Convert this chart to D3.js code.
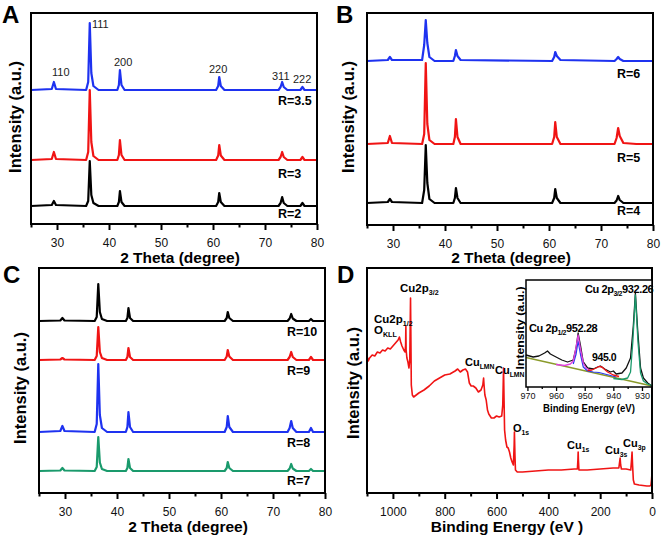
<!DOCTYPE html>
<html><head><meta charset="utf-8">
<script src="https://cdn.jsdelivr.net/npm/d3@7"></script>
<style>body{margin:0;background:#fff} svg{display:block} text{font-family:Arial,"Liberation Sans",sans-serif}</style>
</head><body><svg id="c" width="661" height="538"></svg>
<script>
// ---------------- DATA ----------------
const xrdTicks = [25,30,35,40,45,50,55,60,65,70,75,80];
const surveyTicks = [0,100,200,300,400,500,600,700,800,900,1000,1100];
const insetTicks = [970,965,960,955,950,945,940,935,930];

// 2-theta sampling (degrees) for panels A and B, and C
const twoTheta  = [25,29.0,29.4,29.8,35.6,36.0,36.3,36.6,37.0,38.0,41.6,41.9,42.1,42.4,43.0,60.6,61.0,61.2,61.5,62.2,72.6,73.0,73.3,73.6,74.3,76.8,77.2,77.6,80];
const twoThetaC = [25,29.1,29.5,29.9,35.7,36.1,36.4,36.7,37.1,38.1,41.7,42.0,42.2,42.5,43.1,60.7,61.1,61.3,61.6,62.3,72.8,73.2,73.5,73.8,74.5,76.9,77.3,77.7,80];

// Panel A intensities (a.u., offset)
const A_R35 = [134,135,142,135,134,142,201,151,138,134,134,139,154,139,134,134,138,147,138,134,134,137,142,137,134,134,137,134,134];
const A_R3  = [64,65,72,65,64,72,134,82,68,64,64,69,84,69,64,64,68.5,79,68.5,64,64,67,72,67,64,64,67,64,64];
const A_R2  = [18,19,23,19,18,23,63,29,21,18,18,22,33,22,18,18,22,31,22,18,18,21,27,21,18,18,21,18,18];
// Panel B
const B_R6 = [164,165,168,165,165,180,205,182,168,164,164,169,175,169,165,164,168,173,169,165,164,166,168,166,164,164,164,164,164];
const B_R5 = [81,82,89,82,81,91,162,101,85,81,81,88,106,88,81,81,88,103,88,81,81,87,97,89,82,81,81,81,81];
const B_R4 = [22,23,26,23,22,35,80,42,26,22,22,27,37,27,22,22,27,36,27,22,22,24.5,29,25,22,22,22,22,22];
// Panel C
const C_R10 = [172,172.5,175,172.5,172,176,209,181,174,172,172,175,185,175,172,172,175,181,175,172,172,174.5,179,174.5,172,172,174,172,172];
const C_R9  = [133,133.5,135,133.5,133,137,166,141,135,133,133,136,145,136,133,133,136.5,143,136.5,133,133,136,141,136,133,133,136,133,133];
const C_R8  = [61,62,67,62,61,69,129,78,65,61,61,66,81,66,61,61,66,77,66,61,61,65,72,65,61,61,65,61,61];
const C_R7  = [22,22.5,25,22.5,22,26,56,30.5,24,22,22,25,34,25,22,22,25,31,25,22,22,24.5,29,24.5,22,22,24,22,22];

const labelsA = ["R=3.5","R=3","R=2"];
const labelsB = ["R=6","R=5","R=4"];
const labelsC = ["R=10","R=9","R=8","R=7"];
const millerA = ["110","111","200","220","311","222"];

// Panel D: XPS survey (binding energy eV, intensity a.u.)
const surveyE = [1100,1095,1090,1080,1070,1060,1050,1040,1030,1020,1010,1000,990,980,975,970,965,958,953,951,950,949,946,942,938,935,933,932,930.5,929,925,920,900,880,860,840,820,800,780,760,750,740,730,720,712,705,698,690,680,670,660,653,650,648,645,640,635,630,620,610,600,590,580,576,573,571,569,565,560,555,550,545,540,535,532,531,529,527,520,500,450,400,350,300,288,286,285,284,282,250,200,150,128,125,123,121,118,100,82,79,77,75,72,68,50,20,8,4,2,0];
const surveyI = [137,132,135,138,137,141,140,143,142,145,144,147,150,153,156,151,147,143,141,148,167,143,135,131,125,133,173,195,153,108,98,96,100,103,107,112,115,118,119,122,124,121,123,124,121,110,107,107,105,101,103,108,115,107,98,93,83,79,75,75,77,76,77,88,125,93,63,53,46,45,41,35,31,28,48,61,38,23,21,21,22,23,23,24,24,33,41,33,23,23,24,25,25,31,35,28,24,24,23,33,41,28,13,9,8,7,7,8,13,20];

// Inset: Cu 2p high resolution
const rawE = [970.5,968,966,964,963,962,960,958,956,954,953,952.3,951.5,950.5,949,947,945.5,944.5,943,941,940,939,937,935.5,934,933,932.3,931.5,930.5,929.5,928,926.5];
const rawI = [32,30,31,34,36,33,30,27,25,27,39,54,42,25,19,18,20,21,18,15,16,13,14,19,29,62,94,57,19,9,4,1];
const bgE = [970.5,926.5];
const bgI = [29.5,1];
const fit12E = [960,957,955,954,953.2,952.3,951.4,950.5,949.5,948];
const fit12I = [22.5,21.5,23,26,37,52,37,24,19,16.5];
const fitBlueE = [954,953,952.3,951.5,950.5,949,947,945,943,941,939];
const fitBlueI = [23,33,46,33,20,16,15,14.5,13,11.5,10];
const fitSatE = [949,947.5,946,945,944,943,942,940,938];
const fitSatI = [16.5,17,19,20.5,20,17.5,15,12,10.5];
const fit32E = [940,937,935,934,933.2,932.3,931.4,930.5,929.5,928,926.5];
const fit32I = [8.5,7.5,9,15,45,92,45,14,6,3,1.5];

// ---------------- DRAW ----------------
const svg = d3.select("#c");
const BLUE="#1e32f0", RED="#f01414", GREEN="#1a9a6c", BLACK="#000";

function bottomAxis(g, x, yPos, ticks, majorTest, opts) {
  const ax = g.append("g").attr("transform", `translate(0,${yPos})`)
    .call(d3.axisBottom(x).tickValues(ticks).tickSize(opts.major).tickPadding(opts.pad)
      .tickFormat(d => majorTest(d) ? d : ""));
  ax.select(".domain").remove();
  ax.selectAll(".tick line").attr("stroke", "#000").attr("stroke-width", opts.sw)
    .attr("y2", d => majorTest(d) ? opts.major : opts.minor);
  ax.selectAll(".tick text").attr("font-size", opts.fs).attr("fill", "#111")
    .attr("font-family", "Arial, 'Liberation Sans', sans-serif");
  ax.selectAll(".tick").filter(d => !majorTest(d)).select("text").remove();
  return ax;
}

function yTitle(x, y, size, len) {
  const t = svg.append("text").attr("transform", `translate(${x},${y}) rotate(-90)`)
    .attr("text-anchor", "middle").attr("font-weight", "bold").attr("font-size", size)
    .text("Intensity (a.u.)");
  if (len) t.attr("textLength", len).attr("lengthAdjust", "spacingAndGlyphs");
}
function xTitle(str, x, y, size, len) {
  const t = svg.append("text").attr("x", x).attr("y", y).attr("text-anchor", "middle")
    .attr("font-weight", "bold").attr("font-size", size).text(str);
  if (len) t.attr("textLength", len).attr("lengthAdjust", "spacingAndGlyphs");
}
function letter(s, x, y) {
  svg.append("text").attr("x", x).attr("y", y).attr("font-weight", "bold")
    .attr("font-size", 24).text(s);
}

function xrdPanel(p) {
  const x = d3.scaleLinear().domain([25, 80]).range([p.l, p.r]);
  const y = d3.scaleLinear().domain([0, p.b - p.t]).range([p.b, p.t]);
  const g = svg.append("g");
  p.series.forEach(s => {
    const line = d3.line().x((d, i) => x(p.grid[i])).y(d => y(d));
    g.append("path").attr("d", line(s.v)).attr("fill", "none").attr("stroke", s.c)
      .attr("stroke-width", 2.2).attr("stroke-linejoin", "round");
  });
  g.append("rect").attr("x", p.l).attr("y", p.t).attr("width", p.r - p.l).attr("height", p.b - p.t)
    .attr("fill", "none").attr("stroke", "#000").attr("stroke-width", 2);
  bottomAxis(g, x, p.b, xrdTicks, d => d % 10 === 0, {major: 6, minor: 3.5, pad: 8, sw: 2, fs: 12});
  p.rl.forEach((r, i) => {
    g.append("text").attr("x", p.rx).attr("y", p.ry[i]).attr("font-weight", "bold")
      .attr("font-size", 12.5).text(r);
  });
  return {x, y, g};
}

// Panel A
const pa = xrdPanel({l:31, r:317, t:13, b:224, grid:twoTheta,
  series:[{v:A_R2,c:BLACK},{v:A_R3,c:RED},{v:A_R35,c:BLUE}],
  rl:labelsA, rx:278, ry:[104.5,177.5,217.5]});
const mPos = [[52,76],[92,28],[114,66],[209,73],[272,80],[293,83]];
millerA.forEach((m, i) => pa.g.append("text").attr("x", mPos[i][0]).attr("y", mPos[i][1])
  .attr("font-size", 11).attr("fill", "#222").text(m));
letter("A", 2, 23); yTitle(21, 117, 16.5); xTitle("2 Theta (degree)", 180, 263, 15.5);

// Panel B
xrdPanel({l:367, r:653, t:13, b:225, grid:twoTheta,
  series:[{v:B_R4,c:BLACK},{v:B_R5,c:RED},{v:B_R6,c:BLUE}],
  rl:labelsB, rx:617, ry:[77.5,161.5,214.5]});
letter("B", 336, 23); yTitle(354, 117, 16.5); xTitle("2 Theta (degree)", 511, 263, 15.5);

// Panel C
xrdPanel({l:39, r:325, t:268, b:493, grid:twoThetaC,
  series:[{v:C_R7,c:GREEN},{v:C_R8,c:BLUE},{v:C_R9,c:RED},{v:C_R10,c:BLACK}],
  rl:labelsC, rx:287, ry:[335.5,374.5,446.5,484.5]});
letter("C", 3, 283); yTitle(26, 388, 16.5); xTitle("2 Theta (degree)", 188, 532, 15.5);

// Panel D
(function(){
  const l=367, r=652, t=268, b=493;
  const x = d3.scaleLinear().domain([1100, 0]).range([l, r]);
  const y = d3.scaleLinear().domain([0, b - t]).range([b, t]);
  const g = svg.append("g");
  const line = d3.line().x((d, i) => x(surveyE[i])).y(d => y(d));
  g.append("path").attr("d", line(surveyI)).attr("fill", "none").attr("stroke", RED)
    .attr("stroke-width", 1.6).attr("stroke-linejoin", "round");
  g.append("rect").attr("x", l).attr("y", t).attr("width", r - l).attr("height", b - t)
    .attr("fill", "none").attr("stroke", "#000").attr("stroke-width", 2);
  bottomAxis(g, x, b, surveyTicks, d => d % 200 === 0, {major: 6, minor: 3.5, pad: 8, sw: 2, fs: 12});
  letter("D", 337, 283); yTitle(359, 383, 16.5); xTitle("Binding Energy (eV )", 507, 532, 15.5);

  function lab(base, sub, xx, yy, serif, sz) {
    const t = g.append("text").attr("x", xx).attr("y", yy).attr("font-weight", "bold")
      .attr("font-size", sz || 11)
      .attr("font-family", serif ? "'Liberation Serif', 'DejaVu Serif', serif" : "Arial, 'Liberation Sans', sans-serif");
    t.append("tspan").text(base);
    t.append("tspan").attr("font-size", (sz || 11) * 0.62).attr("dy", 3).text(sub);
  }
  lab("Cu2p", "3/2", 400, 292, true, 11.5);
  lab("Cu2p", "1/2", 374, 323, true, 11.5);
  lab("O", "KLL", 374, 334, true, 11.5);
  lab("Cu", "LMN", 465, 366, false);
  lab("Cu", "LMN", 495, 374, false);
  lab("O", "1s", 513, 432, false);
  lab("Cu", "1s", 567, 449, false);
  lab("Cu", "3s", 605, 454, false);
  lab("Cu", "3p", 623, 447, false);

  // Inset
  const il=526, ir=652, it=280, ib=387;
  const ix = d3.scaleLinear().domain([970.5, 926.5]).range([il, ir]);
  const iy = d3.scaleLinear().domain([0, ib - it]).range([ib, it]);
  const gi = svg.append("g");
  gi.append("rect").attr("x", il).attr("y", it).attr("width", ir - il).attr("height", ib - it)
    .attr("fill", "#fff");
  const draw = (E, I, c, w) => {
    const ln = d3.line().x((d, i) => ix(E[i])).y(d => iy(d));
    gi.append("path").attr("d", ln(I)).attr("fill", "none").attr("stroke", c)
      .attr("stroke-width", w).attr("stroke-linejoin", "round");
  };
  draw(bgE, bgI, "#8a9a2a", 1.3);
  draw(rawE, rawI, "#111", 1.3);
  draw(fitBlueE, fitBlueI, "#2a3cf0", 1.2);
  draw(fit12E, fit12I, "#e040e0", 1.3);
  draw(fitSatE, fitSatI, "#f01414", 1.3);
  draw(fit32E, fit32I, "#1a9a6c", 1.3);
  gi.append("rect").attr("x", il).attr("y", it).attr("width", ir - il).attr("height", ib - it)
    .attr("fill", "none").attr("stroke", "#000").attr("stroke-width", 1.5);
  bottomAxis(gi, ix, ib, insetTicks, d => d % 10 === 0, {major: 4, minor: 2, pad: 2, sw: 1.3, fs: 9});
  gi.append("text").attr("x", 589).attr("y", 412).attr("text-anchor", "middle")
    .attr("font-weight", "bold").attr("font-size", 11).attr("textLength", 92)
    .attr("lengthAdjust", "spacingAndGlyphs").text("Binding Energy (eV)");
  gi.append("text").attr("transform", "translate(524,328) rotate(-90)").attr("text-anchor", "middle")
    .attr("font-weight", "bold").attr("font-size", 11.5).attr("textLength", 83)
    .attr("lengthAdjust", "spacingAndGlyphs").text("Intensity (a.u.)");
  function ilab(sub, val, xx, yy) {
    const t = gi.append("text").attr("x", xx).attr("y", yy).attr("font-weight", "bold")
      .attr("font-size", 11).attr("letter-spacing", -0.4);
    t.append("tspan").text("Cu 2p");
    t.append("tspan").attr("font-size", 7).attr("dy", 2.5).text(sub);
    t.append("tspan").attr("dy", -2.5).text(val);
  }
  ilab("3/2", "932.26", 585, 293);
  ilab("1/2", "952.28", 529, 332);
  gi.append("text").attr("x", 592).attr("y", 361).attr("font-weight", "bold")
    .attr("font-size", 10.5).attr("letter-spacing", -0.4).text("945.0");
})();
</script>
</body></html>
